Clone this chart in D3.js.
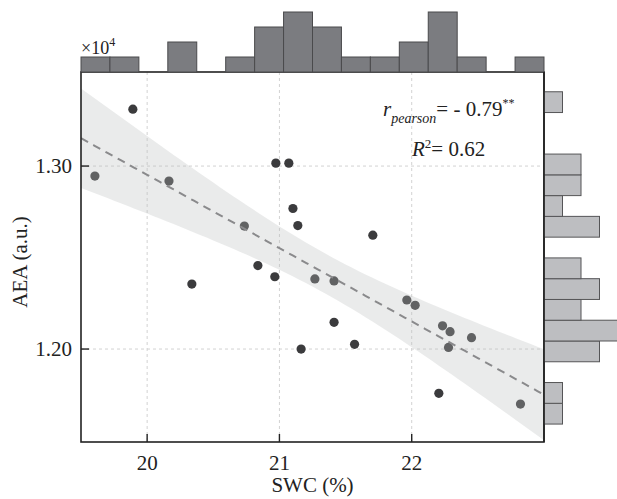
<!DOCTYPE html>
<html>
<head>
<meta charset="utf-8">
<script src="https://cdn.jsdelivr.net/npm/d3@7"></script>
<style>
  body { margin: 0; background: #fff; }
  svg text { font-family: "Liberation Serif", "Times New Roman", serif; fill: #222; }
</style>
</head>
<body>
<div id="chart"></div>
<script>
// SWC (%) vs AEA (x10^4 a.u.)
var swc = [19.605, 19.892, 20.165, 20.338, 20.735, 20.837, 20.973, 21.071, 21.102, 21.139,
           20.965, 21.268, 21.413, 21.706, 21.413, 21.164, 21.568, 21.963, 22.026, 22.233,
           22.290, 22.278, 22.452, 22.205, 22.822];
var aea = [1.2945, 1.3311, 1.2918, 1.2355, 1.2672, 1.2456, 1.3016, 1.3016, 1.2768, 1.2675,
           1.2395, 1.2383, 1.2372, 1.2622, 1.2146, 1.2000, 1.2026, 1.2268, 1.2239, 1.2127,
           1.2095, 1.2009, 1.2062, 1.1758, 1.1699];
var xTicks = [20, 21, 22];
var yTicks = [1.20, 1.30];
var xDomain = [19.5, 23.0];
var yDomain = [1.1492, 1.3514];
var yBinRange = [1.159, 1.3406];
var nBins = 16;

var w = 617, h = 499;
var pLeft = 81, pRight = 544, pTop = 72, pBottom = 442;

var svg = d3.select("#chart").append("svg").attr("width", w).attr("height", h);

var x = d3.scaleLinear().domain(xDomain).range([pLeft, pRight]);
var y = d3.scaleLinear().domain(yDomain).range([pBottom, pTop]);

// grid
svg.selectAll(".gx").data(xTicks).enter().append("line")
  .attr("x1", function (d) { return x(d); }).attr("x2", function (d) { return x(d); })
  .attr("y1", pTop).attr("y2", pBottom)
  .attr("stroke", "#d2d2d2").attr("stroke-dasharray", "3,3");
svg.selectAll(".gy").data(yTicks).enter().append("line")
  .attr("y1", function (d) { return y(d); }).attr("y2", function (d) { return y(d); })
  .attr("x1", pLeft).attr("x2", pRight)
  .attr("stroke", "#d2d2d2").attr("stroke-dasharray", "3,3");

// regression
var n = swc.length;
var mx = d3.mean(swc), my = d3.mean(aea);
var sxx = 0, sxy = 0;
for (var i = 0; i < n; i++) {
  sxx += (swc[i] - mx) * (swc[i] - mx);
  sxy += (swc[i] - mx) * (aea[i] - my);
}
var slope = sxy / sxx;
var icpt = my - slope * mx;
var sse = 0;
for (var i = 0; i < n; i++) {
  var res = aea[i] - (icpt + slope * swc[i]);
  sse += res * res;
}
var s = Math.sqrt(sse / (n - 2));
var tval = 2.069;
var xs = d3.range(xDomain[0], xDomain[1] + 0.001, 0.05);
var band = xs.map(function (v) {
  var fit = icpt + slope * v;
  var se = s * Math.sqrt(1 / n + (v - mx) * (v - mx) / sxx);
  return { x: v, lo: fit - tval * se, hi: fit + tval * se, fit: fit };
});

svg.append("clipPath").attr("id", "clip").append("rect")
  .attr("x", pLeft).attr("y", pTop).attr("width", pRight - pLeft).attr("height", pBottom - pTop);

var plot = svg.append("g").attr("clip-path", "url(#clip)");

// points first, band drawn over them
plot.selectAll("circle").data(swc).enter().append("circle")
  .attr("cx", function (d) { return x(d); })
  .attr("cy", function (d, i) { return y(aea[i]); })
  .attr("r", 4.6)
  .attr("fill", "#3b3b3d");

plot.append("path").datum(band)
  .attr("d", d3.area()
    .x(function (d) { return x(d.x); })
    .y0(function (d) { return y(d.lo); })
    .y1(function (d) { return y(d.hi); }))
  .attr("fill", "rgb(186,188,190)").attr("fill-opacity", 0.3);

plot.append("path").datum(band)
  .attr("d", d3.line()
    .x(function (d) { return x(d.x); })
    .y(function (d) { return y(d.fit); }))
  .attr("fill", "none").attr("stroke", "#8a8a8c").attr("stroke-width", 2)
  .attr("stroke-dasharray", "8,6");

// frame
svg.append("rect").attr("x", pLeft).attr("y", pTop)
  .attr("width", pRight - pLeft).attr("height", pBottom - pTop)
  .attr("fill", "none").attr("stroke", "#222").attr("stroke-width", 1.6);

// ticks (inward)
svg.selectAll(".tx").data(xTicks).enter().append("line")
  .attr("x1", function (d) { return x(d); }).attr("x2", function (d) { return x(d); })
  .attr("y1", pBottom).attr("y2", pBottom - 8)
  .attr("stroke", "#222").attr("stroke-width", 1.4);
svg.selectAll(".ty").data(yTicks).enter().append("line")
  .attr("y1", function (d) { return y(d); }).attr("y2", function (d) { return y(d); })
  .attr("x1", pLeft).attr("x2", pLeft + 8)
  .attr("stroke", "#222").attr("stroke-width", 1.4);

svg.selectAll(".lx").data(xTicks).enter().append("text")
  .attr("x", function (d) { return x(d); }).attr("y", 470)
  .attr("text-anchor", "middle").attr("font-size", "21px")
  .text(function (d) { return d; });
svg.selectAll(".ly").data(yTicks).enter().append("text")
  .attr("x", 72).attr("y", function (d) { return y(d) + 7; })
  .attr("text-anchor", "end").attr("font-size", "21px")
  .text(function (d) { return d3.format(".2f")(d); });

svg.append("text").attr("x", x(21.25)).attr("y", 492)
  .attr("text-anchor", "middle").attr("font-size", "21px").text("SWC (%)");
svg.append("text")
  .attr("transform", "translate(27," + 262 + ") rotate(-90)")
  .attr("text-anchor", "middle").attr("font-size", "21px").text("AEA (a.u.)");

var mult = svg.append("text").attr("x", 81).attr("y", 54).attr("font-size", "18px");
mult.append("tspan").text("\u00d710");
mult.append("tspan").attr("dy", -8).attr("font-size", "12px").text("4");

// annotation
var t1 = svg.append("text").attr("x", 383).attr("y", 116).attr("font-size", "21px");
t1.append("tspan").attr("font-style", "italic").text("r");
t1.append("tspan").attr("font-style", "italic").attr("font-size", "14px").attr("dy", 7).text("pearson");
t1.append("tspan").attr("dy", -7).text("= - 0.79");
t1.append("tspan").attr("dy", -9).attr("font-size", "12px").text("**");
var t2 = svg.append("text").attr("x", 412).attr("y", 156).attr("font-size", "21px");
t2.append("tspan").attr("font-style", "italic").text("R");
t2.append("tspan").attr("dy", -8).attr("font-size", "13px").text("2");
t2.append("tspan").attr("dy", 8).text("= 0.62");

// top histogram
var xBins = d3.bin()
  .domain(xDomain)
  .thresholds(d3.range(1, nBins).map(function (k) { return xDomain[0] + k * (xDomain[1] - xDomain[0]) / nBins; }))(swc);
var hTop = d3.scaleLinear().domain([0, 4]).range([0, 60]);
svg.selectAll(".hx").data(xBins.filter(function (b) { return b.length > 0; })).enter().append("rect")
  .attr("x", function (b) { return x(b.x0); })
  .attr("width", function (b) { return x(b.x1) - x(b.x0); })
  .attr("y", function (b) { return pTop - hTop(b.length); })
  .attr("height", function (b) { return hTop(b.length); })
  .attr("fill", "#7b7c80").attr("stroke", "#4a4a4c").attr("stroke-width", 1);

// right histogram
var yBins = d3.bin()
  .domain(yBinRange)
  .thresholds(d3.range(1, nBins).map(function (k) { return yBinRange[0] + k * (yBinRange[1] - yBinRange[0]) / nBins; }))(aea);
var wRight = d3.scaleLinear().domain([0, 4]).range([0, 74]);
svg.selectAll(".hy").data(yBins.filter(function (b) { return b.length > 0; })).enter().append("rect")
  .attr("x", pRight)
  .attr("width", function (b) { return wRight(b.length); })
  .attr("y", function (b) { return y(b.x1); })
  .attr("height", function (b) { return y(b.x0) - y(b.x1); })
  .attr("fill", "#bdbec1").attr("stroke", "#555557").attr("stroke-width", 1);

svg.append("line").attr("x1", pRight).attr("x2", pRight).attr("y1", pTop).attr("y2", pBottom)
  .attr("stroke", "#222").attr("stroke-width", 1.6);
</script>
</body>
</html>
